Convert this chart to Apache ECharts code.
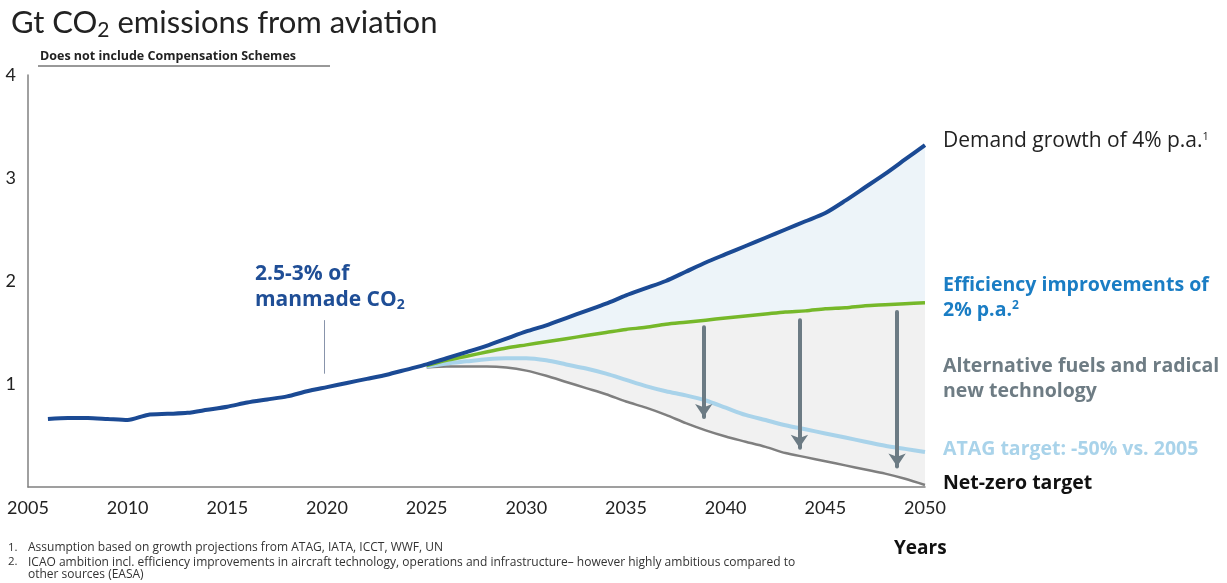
<!DOCTYPE html>
<html>
<head>
<meta charset="utf-8">
<script src="https://cdn.jsdelivr.net/npm/echarts@6/dist/echarts.min.js"></script>
<style>
html,body{margin:0;padding:0;background:#fff;}
#c{width:1227px;height:583px;}
</style>
</head>
<body>
<div id="c"></div>
<script>
// ---- data ----
const historyYears = [2006,2007,2008,2009,2010,2011,2012,2013,2014,2015,2016,2017,2018,2019,2020,2021,2022,2023,2024,2025];
const historyValues = [0.66,0.67,0.67,0.66,0.65,0.70,0.71,0.72,0.75,0.78,0.82,0.85,0.88,0.93,0.97,1.01,1.05,1.09,1.14,1.19];

const futureYears = [2025,2026,2027,2028,2029,2030,2031,2032,2033,2034,2035,2036,2037,2038,2039,2040,2041,2042,2043,2044,2045,2046,2047,2048,2049,2050];
const demandValues = [1.19,1.25,1.31,1.37,1.44,1.51,1.57,1.64,1.71,1.78,1.86,1.93,2.00,2.09,2.18,2.26,2.34,2.42,2.50,2.58,2.66,2.78,2.91,3.04,3.18,3.32];
const efficiencyValues = [1.18,1.23,1.27,1.31,1.35,1.38,1.41,1.44,1.47,1.50,1.53,1.55,1.58,1.60,1.62,1.64,1.66,1.68,1.70,1.71,1.73,1.74,1.76,1.77,1.78,1.79];
const atagValues = [1.17,1.20,1.22,1.24,1.25,1.25,1.23,1.19,1.15,1.10,1.04,0.98,0.93,0.89,0.84,0.77,0.70,0.65,0.60,0.56,0.52,0.48,0.44,0.40,0.37,0.34];
const netZeroValues = [1.16,1.17,1.17,1.17,1.16,1.13,1.08,1.02,0.96,0.90,0.83,0.77,0.70,0.62,0.55,0.49,0.44,0.39,0.33,0.29,0.25,0.21,0.17,0.13,0.08,0.02];

const arrowYears = [2038.9, 2043.7, 2048.6];
const arrowTops = [1.55, 1.62, 1.70];
const arrowTips = [0.68, 0.38, 0.20];

const annotYear = 2019.85;
const annotTop = 1.62;
const annotBottom = 1.10;

const xTicks = [2005,2010,2015,2020,2025,2030,2035,2040,2045,2050];
const yTicks = [1,2,3,4];

// ---- build ----
const pairs = (xs, ys) => xs.map((x, i) => [x, ys[i]]);
const whiteMask = pairs(historyYears.slice(0, -1), historyValues.slice(0, -1)).concat(pairs(futureYears, netZeroValues));

const FONT = 'Lato';
const TF = 'Open Sans';
const chart = echarts.init(document.getElementById('c'), null, {renderer: 'canvas'});

const option = {
  animation: false,
  backgroundColor: '#ffffff',
  grid: {left: 28, right: 302, top: 75, bottom: 96, containLabel: false},
  xAxis: {
    type: 'value', min: 2005, max: 2050, interval: 5, z: 10,
    axisLine: {show: true, lineStyle: {color: '#808080', width: 1.5}},
    axisTick: {show: false},
    splitLine: {show: false},
    axisLabel: {color: '#222', fontSize: 18, fontFamily: FONT, margin: 12,
      formatter: v => xTicks.includes(v) ? String(v) : ''}
  },
  yAxis: {
    type: 'value', min: 0, max: 4, interval: 1, z: 10,
    axisLine: {show: true, lineStyle: {color: '#808080', width: 1.5}},
    axisTick: {show: false},
    splitLine: {show: false},
    axisLabel: {color: '#222', fontSize: 18, fontFamily: FONT, margin: 12,
      formatter: v => yTicks.includes(v) ? String(v) : ''}
  },
  series: [
    // filled bands drawn as overlapping opaque areas
    {type: 'line', data: pairs(futureYears, demandValues), symbol: 'none', smooth: 0.25,
      lineStyle: {width: 0, color: '#edf4f9'}, areaStyle: {color: '#edf4f9', opacity: 1}, z: 1},
    {type: 'line', data: pairs(futureYears, efficiencyValues), symbol: 'none', smooth: 0.3,
      lineStyle: {width: 0, color: '#f1f1f1'}, areaStyle: {color: '#f1f1f1', opacity: 1}, z: 1.1},
    {type: 'line', data: whiteMask, symbol: 'none', smooth: 0.3,
      lineStyle: {width: 0, color: '#ffffff'}, areaStyle: {color: '#ffffff', opacity: 1}, z: 1.2},
    // lines
    {type: 'line', data: pairs(futureYears, netZeroValues), symbol: 'none', smooth: 0.3,
      lineStyle: {color: '#7f7f7f', width: 2.5}, z: 3},
    {type: 'line', data: pairs(futureYears, atagValues), symbol: 'none', smooth: 0.3,
      lineStyle: {color: '#a9d3ea', width: 4}, z: 3},
    {type: 'line', data: pairs(futureYears, efficiencyValues), symbol: 'none', smooth: 0.3,
      lineStyle: {color: '#76b82a', width: 3.5}, z: 4},
    {type: 'line', data: pairs(historyYears, historyValues).concat(pairs(futureYears, demandValues).slice(1)),
      symbol: 'none', smooth: 0.25,
      lineStyle: {color: '#1b4a94', width: 4}, z: 5},
    {type: 'lines', coordinateSystem: 'cartesian2d', z: 6,
      symbol: ['none', 'arrow'], symbolSize: [0, 13],
      lineStyle: {color: '#6c7b84', width: 4, opacity: 1, cap: 'round'},
      data: arrowYears.map((x, i) => ({coords: [[x, arrowTops[i]], [x, arrowTips[i]]]}))},
    {type: 'lines', coordinateSystem: 'cartesian2d', z: 6,
      symbol: ['none', 'none'],
      lineStyle: {color: '#8894ab', width: 1, opacity: 1},
      data: [{coords: [[annotYear, annotTop], [annotYear, annotBottom]]}]}
  ],
  graphic: [
    {type: 'text', left: 11, top: 7, style: {
      text: '{a|Gt CO}{b|2}{a| emissions from aviation}', fill: '#222',
      rich: {a: {fontSize: 31, fontFamily: FONT, fill: '#222'},
             b: {fontSize: 21, fontFamily: FONT, fill: '#222', padding: [16, 0, 0, 0]}}}},
    {type: 'text', left: 40, top: 50, style: {
      text: 'Does not include Compensation Schemes', fontSize: 12.5, fontWeight: 'bold',
      fontFamily: TF, fill: '#222'}},
    {type: 'line', shape: {x1: 38, y1: 66, x2: 330, y2: 66}, style: {stroke: '#333', lineWidth: 1}},
    {type: 'text', left: 255, top: 261, style: {
      text: '2.5-3% of\n{m|manmade CO}{s|2}', fontSize: 21, fontWeight: 'bold', fontFamily: TF,
      fill: '#1f4e96', lineHeight: 26,
      rich: {m: {fontSize: 21, fontWeight: 'bold', fontFamily: TF, fill: '#1f4e96'},
             s: {fontSize: 14, fontWeight: 'bold', fontFamily: TF, fill: '#1f4e96', padding: [10, 0, 0, 0]}}}},
    {type: 'text', left: 943, top: 131, style: {
      text: 'Demand growth of 4% p.a.{s|1}', fontSize: 21, fontFamily: TF, fill: '#222',
      rich: {s: {fontSize: 11, fontFamily: TF, fill: '#222', padding: [0, 0, 10, 0]}}}},
    {type: 'text', left: 943, top: 273, style: {
      text: 'Efficiency improvements of\n2% p.a.{s|2}', fontSize: 19.5, fontWeight: 'bold', fontFamily: TF,
      fill: '#1a7dc4', lineHeight: 25,
      rich: {s: {fontSize: 12, fontWeight: 'bold', fontFamily: TF, fill: '#1a7dc4', padding: [0, 0, 10, 0]}}}},
    {type: 'text', left: 943, top: 354, style: {
      text: 'Alternative fuels and radical\nnew technology', fontSize: 19.5, fontWeight: 'bold', fontFamily: TF,
      fill: '#6e7c84', lineHeight: 25}},
    {type: 'text', left: 943, top: 439, style: {
      text: 'ATAG target: -50% vs. 2005', fontSize: 19.5, fontWeight: 'bold', fontFamily: TF,
      fill: '#a9d3ea'}},
    {type: 'text', left: 943, top: 473, style: {
      text: 'Net-zero target', fontSize: 19.5, fontWeight: 'bold', fontFamily: TF, fill: '#111'}},
    {type: 'text', left: 894, top: 539, style: {
      text: 'Years', fontSize: 19, fontWeight: 'bold', fontFamily: TF, fill: '#111'}},
    {type: 'text', left: 8, top: 542, style: {
      text: '1.', fontSize: 11.5, fontFamily: TF, fill: '#333'}},
    {type: 'text', left: 28, top: 542, style: {
      text: 'Assumption based on growth projections from ATAG, IATA, ICCT, WWF, UN', fontSize: 12, fontFamily: TF, fill: '#333'}},
    {type: 'text', left: 8, top: 556, style: {
      text: '2.', fontSize: 11.5, fontFamily: TF, fill: '#333'}},
    {type: 'text', left: 28, top: 556, style: {
      text: 'ICAO ambition incl. efficiency improvements in aircraft technology, operations and infrastructure\u2013 however highly ambitious compared to\nother sources (EASA)',
      fontSize: 12, fontFamily: TF, fill: '#333', lineHeight: 12.5}}
  ]
};
chart.setOption(option);
</script>
</body>
</html>
